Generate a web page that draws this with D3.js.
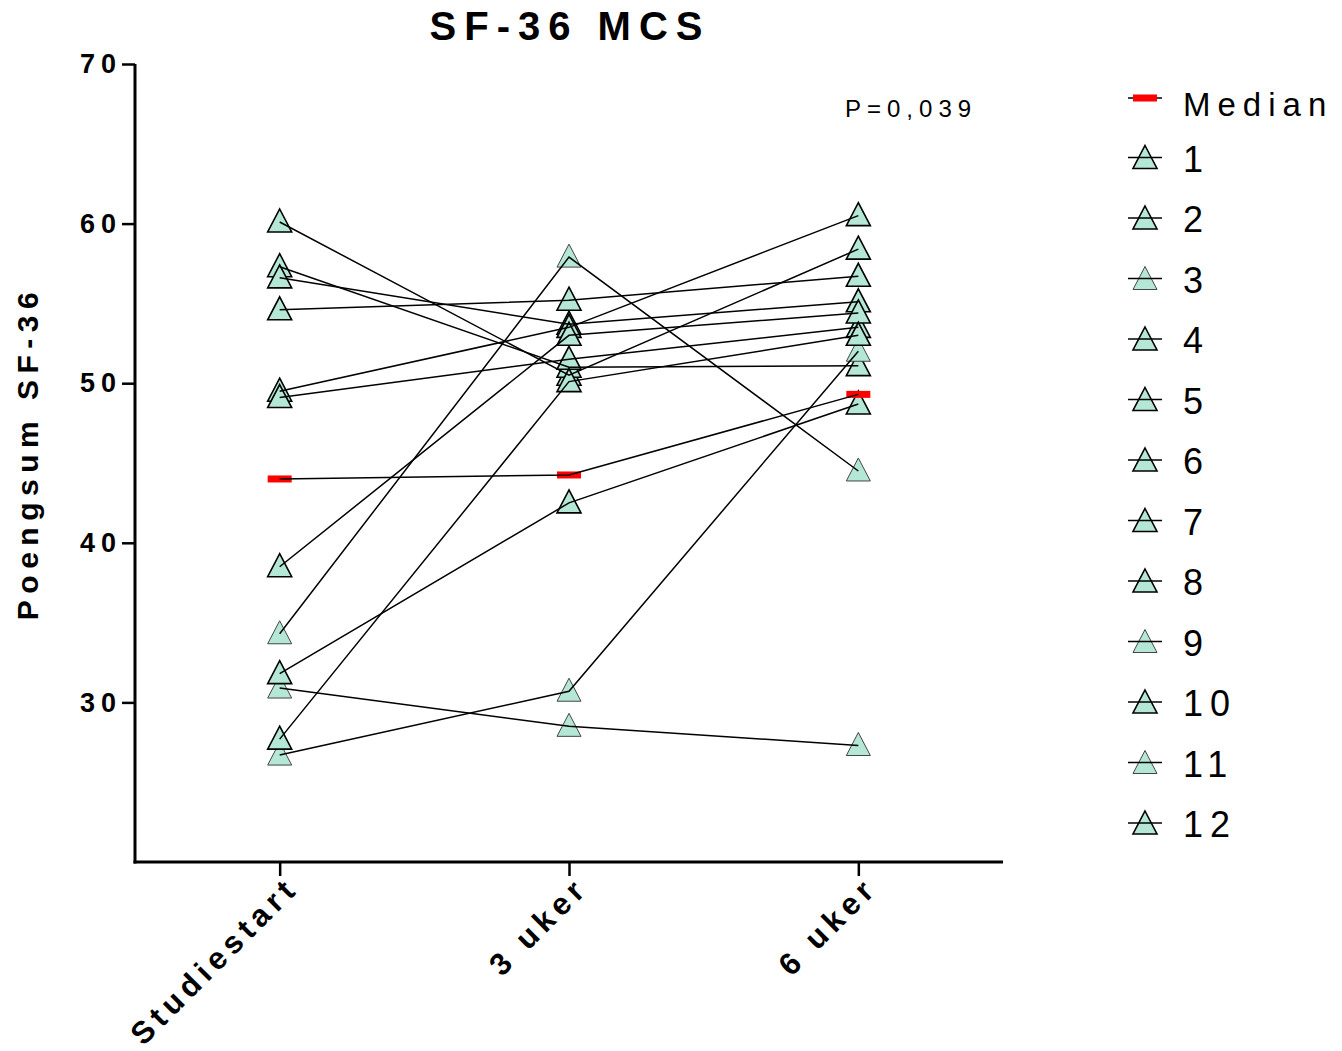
<!DOCTYPE html>
<html>
<head>
<meta charset="utf-8">
<script src="https://cdn.jsdelivr.net/npm/d3@7"></script>
<style>
  body { margin: 0; background: #fff; }
  svg { display: block; font-family: "Liberation Sans", Arial, sans-serif; }
</style>
</head>
<body>
<div id="chart"></div>
<script>
// Data
const timepoints = ['Studiestart', '3 uker', '6 uker'];
const subjects = ['1', '2', '3', '4', '5', '6', '7', '8', '9', '10', '11', '12'];
const studiestart = [60.1, 57.3, 34.3, 56.6, 54.6, 49.5, 49.1, 38.5, 30.9, 31.8, 26.7, 27.7];
const uker3 = [50.5, 51.0, 57.9, 53.7, 55.2, 53.5, 51.5, 53.0, 28.5, 42.5, 30.7, 50.1];
const uker6 = [58.4, 51.1, 44.5, 55.1, 56.7, 60.5, 53.5, 54.4, 27.3, 48.7, 52.0, 53.0];
const median = [44.0, 44.25, 49.3];
const yTicks = [30, 40, 50, 60, 70];
const thinOutline = ['3', '9', '11'];
const pLabel = 'P=0,039';

const width = 1342, height = 1051;
const svg = d3.select('#chart')
    .append('svg')
    .attr('width', width)
    .attr('height', height);

const x = d3.scalePoint().domain(timepoints).range([135, 1003]).padding(0.5);
const y = d3.scaleLinear().domain([20, 70]).range([862, 64]);

const series = subjects.map((name, i) => ({
    name: name,
    values: [studiestart[i], uker3[i], uker6[i]]
}));

// triangle a bit taller than equilateral, like the original symbol
const tri = {
    draw(ctx) {
        ctx.moveTo(0, -13);
        ctx.lineTo(12, 10);
        ctx.lineTo(-12, 10);
        ctx.closePath();
    }
};
const triPath = d3.symbol().type(tri)();
const fill = '#b4e7d5';

// Axes
const yAxis = svg.append('g')
    .attr('transform', 'translate(135,0)')
    .call(d3.axisLeft(y).tickValues(yTicks).tickSize(13).tickSizeOuter(0).tickPadding(0));
yAxis.select('.domain').attr('stroke-width', 3).attr('d', `M0,${y(20) + 1.5}V${y(70)}`);
yAxis.selectAll('.tick line').attr('stroke-width', 2.5);
yAxis.selectAll('.tick text')
    .style('font-size', '27px')
    .style('font-weight', 'bold')
    .style('letter-spacing', '6px')
    .attr('fill', '#000');

const xAxis = svg.append('g')
    .attr('transform', 'translate(0,862)')
    .call(d3.axisBottom(x).tickSize(14).tickSizeOuter(0));
xAxis.select('.domain').attr('stroke-width', 3).attr('d', 'M133.5,0H1003');
xAxis.selectAll('.tick line').attr('stroke-width', 2.5);
xAxis.selectAll('.tick text')
    .style('font-size', '31px')
    .style('font-weight', 'bold')
    .style('letter-spacing', '5.5px')
    .attr('fill', '#000')
    .attr('text-anchor', 'end')
    .attr('x', -5)
    .attr('y', 23)
    .attr('dy', '0.35em')
    .attr('transform', 'rotate(-45)');

// Title and axis title
svg.append('text')
    .attr('x', 570)
    .attr('y', 40)
    .attr('text-anchor', 'middle')
    .style('font-size', '40px')
    .style('font-weight', 'bold')
    .style('letter-spacing', '8px')
    .text('SF-36 MCS');

svg.append('text')
    .attr('transform', 'translate(38,453) rotate(-90)')
    .attr('text-anchor', 'middle')
    .style('font-size', '30px')
    .style('font-weight', 'bold')
    .style('letter-spacing', '6.5px')
    .text('Poengsum SF-36');

svg.append('text')
    .attr('x', 845)
    .attr('y', 117)
    .style('font-size', '24px')
    .style('letter-spacing', '6px')
    .text(pLabel);

// Symbols
const plot = svg.append('g');
series.forEach(s => {
    const thin = thinOutline.includes(s.name);
    plot.append('g')
        .selectAll('path')
        .data(s.values)
        .join('path')
        .attr('d', triPath)
        .attr('transform', (d, i) => `translate(${x(timepoints[i])},${y(d)})`)
        .attr('fill', fill)
        .attr('stroke', thin ? '#444' : '#000')
        .attr('stroke-width', thin ? 1 : 1.6);
});

plot.append('g')
    .selectAll('rect')
    .data(median)
    .join('rect')
    .attr('x', (d, i) => x(timepoints[i]) - 12)
    .attr('y', d => y(d) - 3.5)
    .attr('width', 24)
    .attr('height', 7)
    .attr('fill', '#ff0000');

// Connecting lines on top
const line = d3.line()
    .x((d, i) => x(timepoints[i]))
    .y(d => y(d));

series.forEach(s => {
    plot.append('path')
        .datum(s.values)
        .attr('d', line)
        .attr('fill', 'none')
        .attr('stroke', '#000')
        .attr('stroke-width', 1.5);
});
plot.append('path')
    .datum(median)
    .attr('d', line)
    .attr('fill', 'none')
    .attr('stroke', '#000')
    .attr('stroke-width', 1.5);

// Legend
const legendNames = ['Median'].concat(subjects);
const ly = d3.scalePoint().domain(legendNames).range([98, 824]);
const legend = svg.append('g');

const med = legend.append('g').attr('transform', `translate(1145,${ly('Median')})`);
med.append('line').attr('x1', -17).attr('x2', 17).attr('stroke', '#000').attr('stroke-width', 1.5);
med.append('rect').attr('x', -12).attr('y', -3.5).attr('width', 24).attr('height', 7).attr('fill', '#ff0000');
med.append('text')
    .attr('x', 38)
    .attr('y', 18)
    .style('font-size', '33px')
    .style('letter-spacing', '7px')
    .text('Median');

subjects.forEach(name => {
    const thin = thinOutline.includes(name);
    const g = legend.append('g').attr('transform', `translate(1145,${ly(name)})`);
    g.append('path')
        .attr('d', triPath)
        .attr('fill', fill)
        .attr('stroke', thin ? '#444' : '#000')
        .attr('stroke-width', thin ? 1 : 1.6);
    g.append('line')
        .attr('x1', -17).attr('x2', 17)
        .attr('y1', -1).attr('y2', -1)
        .attr('stroke', '#000')
        .attr('stroke-width', 1.5);
    g.append('text')
        .attr('x', 38)
        .attr('y', 13)
        .style('font-size', '36px')
        .style('letter-spacing', '7px')
        .text(name);
});
</script>
</body>
</html>
